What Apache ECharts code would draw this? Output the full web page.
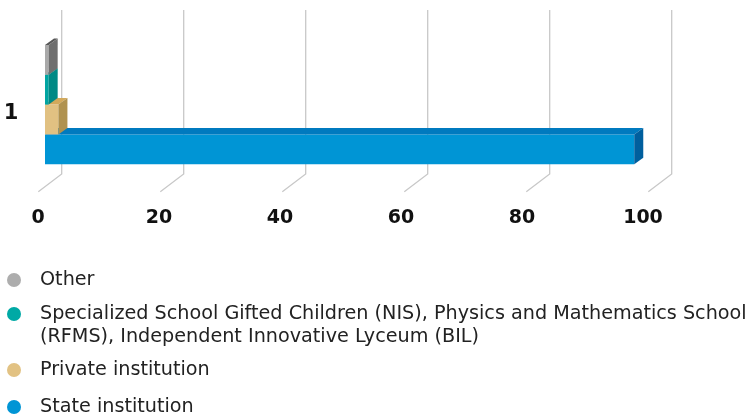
<!DOCTYPE html>
<html>
<head>
<meta charset="utf-8">
<script src="https://cdn.jsdelivr.net/npm/echarts@6/dist/echarts.min.js"></script>
<style>html,body{margin:0;padding:0;background:#fff;}#c{width:751px;height:418px;}</style>
</head>
<body>
<div id="c"></div>
<script>
const categories = ['1'];
const xTicks = [0, 20, 40, 60, 80, 100];
const seriesNames = [
  'State institution',
  'Private institution',
  'Specialized School Gifted Children (NIS), Physics and Mathematics School (RFMS), Independent Innovative Lyceum (BIL)',
  'Other'
];
const stateValues = [96.6];
const privateValues = [2.2];
const specializedValues = [0.6];
const otherValues = [0.6];

const legendColors = ['#0095D5', '#E2C283', '#00A9A5', '#ADADAD'];
const faceColors = [
  { front: '#0095D5', top: '#007ABF', side: '#005F9E' },
  { front: '#E1C182', top: '#D3A95B', side: '#B0924F' },
  { front: '#00A5A2', top: '#00908B', side: '#008985' },
  { front: '#A9A9A9', top: '#575757', side: '#6F6F6F' }
];

// projection constants
const GRID_DX = 23.4, GRID_DY = -17.7;   // front plane -> back plane
const BAR_OX = 6.7, BAR_OY = -5.1;       // front plane -> bar front plane
const BAR_DX = 9, BAR_DY = -6.5;         // bar depth
const BAR_FRAC = 0.1818;

function gridRender(params, api) {
  const cs = params.coordSys;
  const p = api.coord([api.value(0), 0]);
  const x = p[0];
  const yBottom = cs.y + cs.height;
  const yTop = cs.y;
  return {
    type: 'polyline',
    shape: { points: [
      [x + GRID_DX, yTop + GRID_DY],
      [x + GRID_DX, yBottom + GRID_DY],
      [x, yBottom]
    ]},
    style: { stroke: '#c8c8c8', lineWidth: 1.3, fill: null }
  };
}

function makeBarRender(slot) {
  return function (params, api) {
    const cat = api.value(1);
    const s = api.coord([0, cat]);
    const e = api.coord([api.value(0), cat]);
    const band = api.size([0, 1])[1];
    const h = band * BAR_FRAC;
    const cy = s[1] + BAR_OY;
    const bottom = cy + 2 * h - slot * h;
    const top = bottom - h;
    const x0 = s[0] + BAR_OX;
    const x1 = e[0] + BAR_OX;
    const c = faceColors[slot];
    return {
      type: 'group',
      children: [
        { type: 'rect', shape: { x: x0, y: top, width: x1 - x0, height: h }, style: { fill: c.front } },
        { type: 'polygon', shape: { points: [[x0, top], [x0 + BAR_DX, top + BAR_DY], [x1 + BAR_DX, top + BAR_DY], [x1, top]] }, style: { fill: c.top } },
        { type: 'polygon', shape: { points: [[x1, top], [x1 + BAR_DX, top + BAR_DY], [x1 + BAR_DX, bottom + BAR_DY], [x1, bottom]] }, style: { fill: c.side } }
      ]
    };
  };
}

const valueSets = [stateValues, privateValues, specializedValues, otherValues];
const barSeries = valueSets.map(function (vals, i) {
  return {
    type: 'custom',
    name: seriesNames[i],
    renderItem: makeBarRender(i),
    itemStyle: { color: legendColors[i] },
    encode: { x: 0, y: 1 },
    data: vals.map(function (v, j) { return [v, j]; })
  };
});

const legendFont = { fontFamily: 'DejaVu Sans', fontSize: 19.2, color: '#222', lineHeight: 23 };
function legendFor(i, top, extra) {
  return Object.assign({
    orient: 'vertical',
    left: 7,
    top: top,
    padding: 0,
    icon: 'circle',
    itemWidth: 42,
    itemHeight: 14,
    selectedMode: false,
    data: [seriesNames[i]],
    textStyle: Object.assign({}, legendFont)
  }, extra || {});
}

const hiddenAxis = { axisLine: { show: false }, axisTick: { show: false }, splitLine: { show: false } };

const option = {
  animation: false,
  grid: [
    { left: 38.3, top: 27.7, width: 610, height: 164, containLabel: false },
    { left: 38, top: 27.7, width: 605, height: 164, containLabel: false }
  ],
  xAxis: [
    Object.assign({ type: 'value', min: 0, max: 100, interval: 20, gridIndex: 0, axisLabel: { show: false } }, hiddenAxis),
    Object.assign({
      type: 'value', min: 0, max: 100, interval: 20, gridIndex: 1,
      axisLabel: { margin: 17, fontFamily: 'DejaVu Sans', fontWeight: 'bold', fontSize: 19, color: '#111' }
    }, hiddenAxis)
  ],
  yAxis: [
    Object.assign({
      type: 'category', data: categories, gridIndex: 0,
      axisLabel: { margin: 20, fontFamily: 'DejaVu Sans', fontWeight: 'bold', fontSize: 21, color: '#111', lineHeight: 7, verticalAlign: 'top' }
    }, hiddenAxis),
    Object.assign({ type: 'category', data: categories, gridIndex: 1, axisLabel: { show: false } }, hiddenAxis)
  ],
  legend: [
    legendFor(3, 268.5),
    legendFor(2, 279.5, {
      formatter: function () {
        return ' \nSpecialized School Gifted Children (NIS), Physics and Mathematics School\n(RFMS), Independent Innovative Lyceum (BIL)';
      }
    }),
    legendFor(1, 358.5),
    legendFor(0, 395.5)
  ],
  series: [
    {
      type: 'custom',
      name: 'grid',
      silent: true,
      renderItem: gridRender,
      encode: { x: 0 },
      data: xTicks.map(function (t) { return [t]; })
    }
  ].concat(barSeries)
};

const chart = echarts.init(document.getElementById('c'), null, { renderer: 'canvas' });
chart.setOption(option);
</script>
</body>
</html>
